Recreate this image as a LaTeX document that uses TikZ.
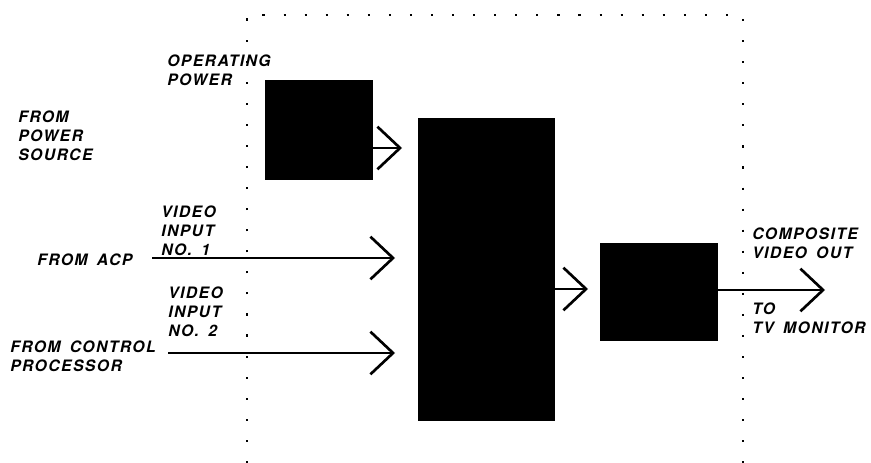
\documentclass[tikz,border=0pt]{standalone}
\usepackage{fontspec}
\setmainfont{TeX Gyre Heros}[LetterSpace=9, WordSpace=1.6]
\usepackage{tikz}
\usetikzlibrary{arrows.meta, positioning}

\tikzset{
    blk/.style={fill=black, draw=black, inner sep=0pt},
    lbl/.style={anchor=north west, inner sep=0pt, align=left,
        font=\bfseries\itshape\fontsize{11.8}{14.25}\selectfont},
    sig/.style={line width=1.4pt, -{Straight Barb[length=17pt, width=32pt, line width=2pt]}},
    dotbox/.style={line width=1.8pt, dash pattern=on 1.6pt off 14.2pt}
}

\begin{document}
\begin{tikzpicture}[x=0.75pt, y=-0.75pt]
                    \useasboundingbox (0,0) rectangle (871,463);
                    % Dotted outline
                    \draw[dotbox] (247,463) |- (743,15) -- (743,463);
                    % Blocks
                    \node[blk, minimum width=80.25pt, minimum height=74.25pt] (pwr) at (318.5,129.5) {};
                    \node[blk, minimum width=102pt, minimum height=226.5pt] (mix) at (486,269) {};
                    \node[blk, minimum width=87.75pt, minimum height=72.75pt] (out) at (658.5,291.5) {};
                    % Arrow ends
                    \coordinate (pwrtip) at (402,148);
                    \coordinate (in1) at (152,258);
                    \coordinate (in1tip) at (395,258);
                    \coordinate (in2) at (168,353);
                    \coordinate (in2tip) at (395,353);
                    \coordinate (mixtip) at (588,289);
                    \coordinate (outtip) at (825,290);
                    % Signals
                    \draw[sig] (pwr.east |- pwrtip) -- (pwrtip);
                    \draw[sig] (in1) -- (in1tip);
                    \draw[sig] (in2) -- (in2tip);
                    \draw[sig] (mix.east |- mixtip) -- (mixtip);
                    \draw[sig] (out.east |- outtip) -- (outtip);
                    % Labels
                    \node[lbl] (oppwr) at (167,55) {OPERATING\\POWER};
                    \node[lbl] (pwrsrc) at (18,111) {FROM\\POWER\\SOURCE};
                    \node[lbl] (vid1) at (161,206) {VIDEO\\INPUT\\NO. 1};
                    \node[lbl] (acp) at (37,254) {FROM ACP};
                    \node[lbl] (vid2) at (168,287) {VIDEO\\INPUT\\NO. 2};
                    \node[lbl] (ctrl) at (10,341) {FROM CONTROL\\PROCESSOR};
                    \node[lbl] (comp) at (752,228) {COMPOSITE\\VIDEO OUT};
                    \node[lbl] (tv) at (752,303) {TO\\TV MONITOR};
                \end{tikzpicture}
\end{document}
